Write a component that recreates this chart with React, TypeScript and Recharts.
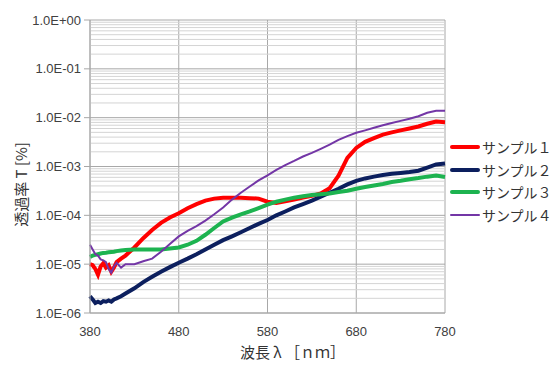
import { LineChart, Line, XAxis, YAxis, CartesianGrid, ReferenceLine } from 'recharts';

// wavelength [nm]
const wavelengths = [
  380, 383, 386, 389, 392, 395, 398, 401, 404, 407, 410, 415, 420,
  430, 440, 450, 460, 470, 480, 490, 500, 510, 520,
  530, 540, 550, 560, 570, 580, 590, 600, 610, 620,
  630, 640, 650, 660, 670, 680, 690, 700, 710, 720,
  730, 740, 750, 760, 770, 780,
];

const sample1 = [
  1.0e-5, 9.5e-6, 8.0e-6, 6.1e-6, 9.0e-6, 1.05e-5, 8.5e-6, 9.5e-6, 7.0e-6, 8.5e-6, 1.1e-5, 1.3e-5, 1.5e-5,
  2.2e-5, 3.4e-5, 5.0e-5, 7.0e-5, 9.0e-5, 1.1e-4, 1.4e-4, 1.7e-4, 2.0e-4, 2.2e-4,
  2.3e-4, 2.3e-4, 2.3e-4, 2.25e-4, 2.2e-4, 1.9e-4, 1.8e-4, 1.95e-4, 2.1e-4, 2.3e-4,
  2.5e-4, 2.8e-4, 3.6e-4, 6.5e-4, 1.5e-3, 2.4e-3, 3.2e-3, 3.8e-3, 4.5e-3, 5.0e-3,
  5.5e-3, 6.0e-3, 6.6e-3, 7.5e-3, 8.3e-3, 8.1e-3,
];

const sample2 = [
  2.2e-6, 1.9e-6, 1.6e-6, 1.7e-6, 1.6e-6, 1.75e-6, 1.7e-6, 1.8e-6, 1.7e-6, 1.9e-6, 2.0e-6, 2.2e-6, 2.5e-6,
  3.2e-6, 4.3e-6, 5.5e-6, 7.0e-6, 8.7e-6, 1.07e-5, 1.3e-5, 1.6e-5, 2.0e-5, 2.5e-5,
  3.1e-5, 3.7e-5, 4.5e-5, 5.5e-5, 6.7e-5, 8.0e-5, 1.0e-4, 1.2e-4, 1.45e-4, 1.7e-4,
  2.0e-4, 2.4e-4, 2.9e-4, 3.5e-4, 4.3e-4, 5.1e-4, 5.7e-4, 6.2e-4, 6.7e-4, 7.1e-4,
  7.4e-4, 7.7e-4, 8.2e-4, 9.5e-4, 1.1e-3, 1.15e-3,
];

const sample3 = [
  1.4e-5, 1.5e-5, 1.55e-5, 1.6e-5, 1.65e-5, 1.7e-5, 1.72e-5, 1.75e-5, 1.78e-5, 1.8e-5, 1.85e-5, 1.9e-5, 1.95e-5,
  2.0e-5, 2.0e-5, 2.0e-5, 2.0e-5, 2.1e-5, 2.2e-5, 2.5e-5, 3.0e-5, 4.0e-5, 5.5e-5,
  7.5e-5, 9.0e-5, 1.05e-4, 1.2e-4, 1.4e-4, 1.65e-4, 1.9e-4, 2.1e-4, 2.3e-4, 2.45e-4,
  2.6e-4, 2.7e-4, 2.8e-4, 3.0e-4, 3.2e-4, 3.5e-4, 3.8e-4, 4.1e-4, 4.4e-4, 4.8e-4,
  5.1e-4, 5.5e-4, 5.8e-4, 6.2e-4, 6.5e-4, 6.1e-4,
];

const sample4 = [
  2.5e-5, 2.0e-5, 1.6e-5, 1.5e-5, 1.25e-5, 1.2e-5, 1.1e-5, 8.0e-6, 6.7e-6, 9.0e-6, 1.07e-5, 8.5e-6, 1.0e-5,
  1.0e-5, 1.15e-5, 1.3e-5, 1.8e-5, 2.6e-5, 3.7e-5, 4.8e-5, 6.0e-5, 7.8e-5, 1.05e-4,
  1.45e-4, 2.1e-4, 2.9e-4, 3.9e-4, 5.2e-4, 6.6e-4, 8.5e-4, 1.07e-3, 1.3e-3, 1.6e-3,
  1.9e-3, 2.3e-3, 2.8e-3, 3.5e-3, 4.2e-3, 4.9e-3, 5.5e-3, 6.2e-3, 7.0e-3, 7.8e-3,
  8.6e-3, 9.5e-3, 1.07e-2, 1.26e-2, 1.38e-2, 1.38e-2,
];

const xTicks = [380, 480, 580, 680, 780];
const yTicks = [1e-6, 1e-5, 1e-4, 1e-3, 1e-2, 1e-1, 1];

const seriesNames = ['サンプル１', 'サンプル２', 'サンプル３', 'サンプル４'];

const data = wavelengths.map((w, i) => ({
  w,
  s1: sample1[i],
  s2: sample2[i],
  s3: sample3[i],
  s4: sample4[i],
}));

const series = [
  { key: 's1', name: seriesNames[0], color: '#ff0000', width: 4 },
  { key: 's2', name: seriesNames[1], color: '#0c1f5e', width: 4 },
  { key: 's3', name: seriesNames[2], color: '#1db350', width: 4 },
  { key: 's4', name: seriesNames[3], color: '#7336a6', width: 2 },
];

// minor log grid values 2..9 in every decade
const minorLines: number[] = [];
yTicks.slice(0, -1).forEach((d) => {
  for (let m = 2; m <= 9; m++) minorLines.push(d * m);
});

const fmtExp = (v: number) => {
  const e = Math.round(Math.log10(v));
  return `1.0E${e < 0 ? '-' : '+'}${String(Math.abs(e)).padStart(2, '0')}`;
};

const jpFont = '"Noto Sans CJK JP", sans-serif';
const numFont = '"Liberation Sans", Arial, sans-serif';

const App = () => {
  return (
    <div style={{ position: 'absolute', left: 0, top: 0, width: 554, height: 365, background: '#fff' }}>
      <LineChart width={554} height={365} data={data} margin={{ top: 20, right: 109, bottom: 27, left: 10 }}>
        <CartesianGrid horizontal={false} stroke="#a8a8a8" strokeWidth={1} />
        {minorLines.map((v) => (
          <ReferenceLine key={v} y={v} stroke="#d4d4d4" strokeWidth={1} ifOverflow="hidden" />
        ))}
        {yTicks.map((v) => (
          <ReferenceLine key={'M' + v} y={v} stroke="#a8a8a8" strokeWidth={1} />
        ))}
        <XAxis
          dataKey="w"
          type="number"
          domain={[380, 780]}
          ticks={xTicks}
          tickLine={false}
          axisLine={{ stroke: '#a8a8a8' }}
          tickMargin={8}
          height={25}
          tick={{ fill: '#404040', fontSize: 13, fontFamily: numFont }}
          label={({ viewBox }: any) => (
            <text
              x={viewBox.x + viewBox.width / 2 + 25}
              y={viewBox.y + 45}
              textAnchor="middle"
              fill="#333"
              fontSize={15}
              fontFamily={jpFont}
            >
              波長 λ ［ｎｍ］
            </text>
          )}
        />
        <YAxis
          scale="log"
          domain={[1e-6, 1]}
          ticks={yTicks}
          allowDataOverflow
          tickFormatter={fmtExp}
          width={80}
          tickSize={6}
          tickMargin={3}
          tickLine={{ stroke: '#a8a8a8' }}
          axisLine={{ stroke: '#a8a8a8' }}
          tick={{ fill: '#404040', fontSize: 13, fontFamily: numFont }}
          label={({ viewBox }: any) => {
            const cx = viewBox.x + 10;
            const cy = viewBox.y + viewBox.height / 2 + 18;
            return (
              <text
                x={cx}
                y={cy}
                transform={`rotate(-90 ${cx} ${cy})`}
                textAnchor="middle"
                dominantBaseline="central"
                fill="#333"
                fontSize={15}
                fontFamily={jpFont}
              >
                透過率 T [%]
              </text>
            );
          }}
        />
        {series.map((s) => (
          <Line
            key={s.key}
            dataKey={s.key}
            name={s.name}
            stroke={s.color}
            strokeWidth={s.width}
            dot={false}
            type="linear"
            isAnimationActive={false}
          />
        ))}
      </LineChart>
      <div style={{ position: 'absolute', left: 450, top: 136 }}>
        {series.map((s) => (
          <div key={s.key} style={{ display: 'flex', alignItems: 'center', height: 22.5 }}>
            <div style={{ width: 30, height: s.width, background: s.color, borderRadius: 2 }} />
            <span style={{ marginLeft: 2, fontSize: 14, color: '#333', fontFamily: jpFont, whiteSpace: 'nowrap' }}>
              {s.name}
            </span>
          </div>
        ))}
      </div>
    </div>
  );
};

export default App;
